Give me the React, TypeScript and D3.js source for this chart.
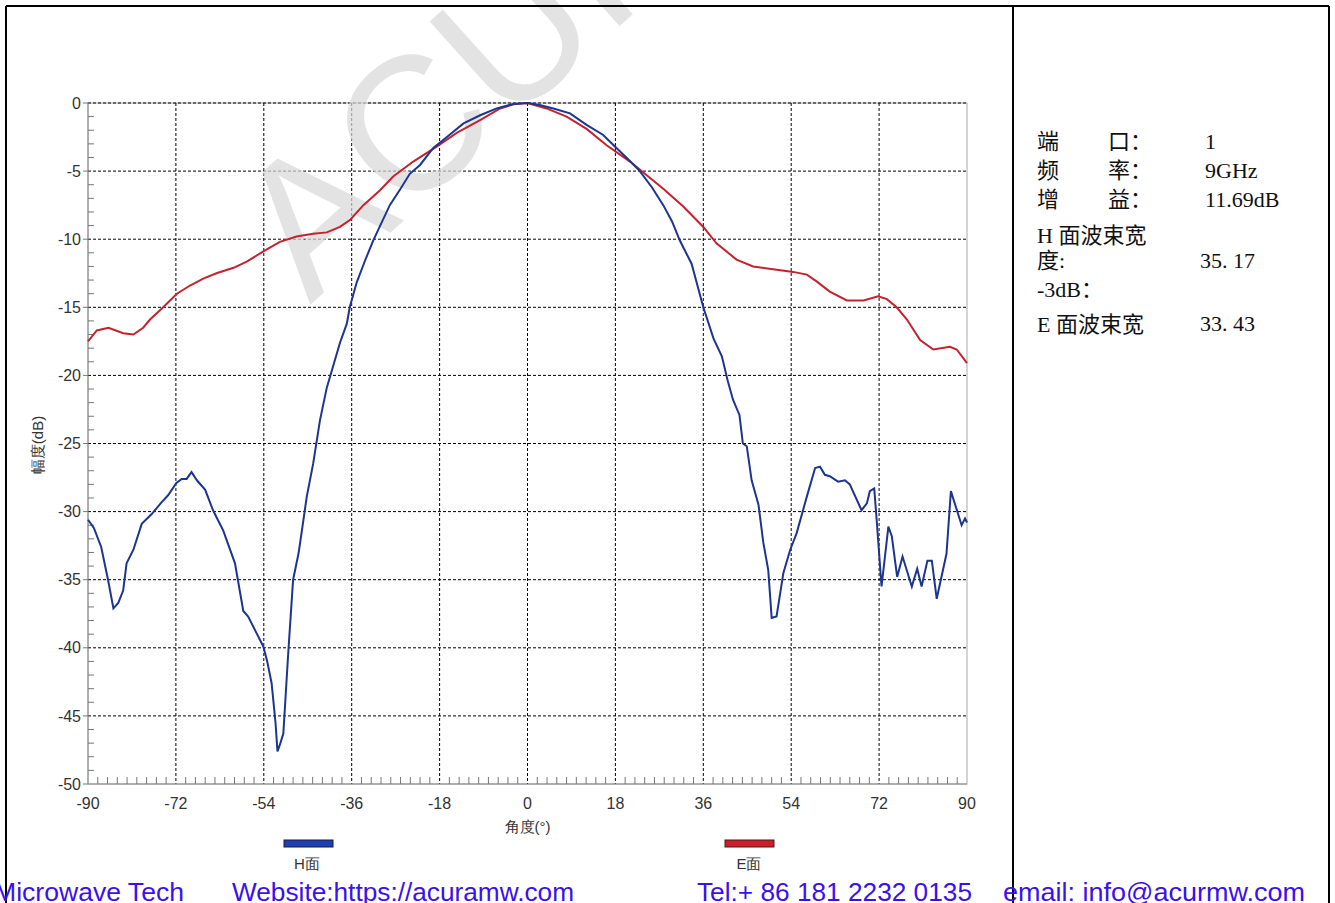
import React from "react";
import * as d3 from "d3";

const hAngles = [-90,-88.8,-87.3,-85.9,-84.8,-83.8,-82.8,-82.1,-80.7,-79,-77,-74.9,-73.6,-71.9,-70.8,-69.8,-68.8,-67.7,-66,-64.4,-62.3,-59.9,-58.2,-57.2,-55.8,-54.1,-53.3,-52.4,-51.6,-51.2,-50.6,-50,-49,-48,-46.9,-46.2,-45.2,-43.9,-42.5,-41.1,-38.4,-37,-36.4,-35,-33.3,-31.6,-28.2,-26,-24.1,-22,-19.3,-16.5,-13.1,-9.7,-6.3,-2.9,0,2.5,5.3,8.7,12.1,15.5,17.9,20.5,23,25.5,27.8,29.6,31.2,33.6,36,38.1,39.8,41,42.1,43.4,44.1,44.9,45.9,47.3,48.3,49.3,50,51,52.4,53.8,55.1,57.2,58.9,59.9,60.9,61.9,63.6,65,66,68.4,69.5,70.1,71,71.5,72.5,73.9,74.6,75.7,76.8,78.7,79.8,80.7,81.9,82.8,83.8,85.8,86.7,88.9,89.6,90];
const hValues = [-30.6,-31.2,-32.6,-35,-37.1,-36.7,-35.8,-33.8,-32.8,-30.9,-30.2,-29.3,-28.8,-27.9,-27.6,-27.6,-27.1,-27.7,-28.4,-29.9,-31.4,-33.8,-37.3,-37.7,-38.7,-39.9,-41,-42.6,-45.5,-47.6,-47,-46.3,-40.4,-35,-33.1,-31.4,-28.9,-26.5,-23.3,-20.9,-17.6,-16.2,-15,-13.2,-11.6,-10.1,-7.5,-6.3,-5.2,-4.55,-3.3,-2.5,-1.5,-0.9,-0.4,-0.07,0,-0.15,-0.4,-0.76,-1.6,-2.35,-3.2,-4.1,-5,-6.2,-7.5,-8.7,-10.1,-11.8,-15,-17.3,-18.6,-20.4,-21.8,-22.9,-25,-25.2,-27.7,-29.5,-32.3,-34.3,-37.8,-37.7,-34.5,-32.8,-31.6,-28.9,-26.8,-26.7,-27.3,-27.4,-27.8,-27.7,-28,-29.9,-29.4,-28.5,-28.3,-30.6,-35.5,-31.1,-31.8,-34.8,-33.3,-35.5,-34.2,-35.5,-33.6,-33.6,-36.4,-33.1,-28.5,-31,-30.5,-30.8];

const eAngles = [-90,-88.2,-85.8,-82.8,-80.7,-78.7,-77.3,-74.6,-71.8,-69.1,-66.4,-63.7,-60.2,-57.5,-54.1,-50.7,-47.3,-43.9,-41.1,-38.4,-36.4,-33.6,-30.2,-27.5,-23.4,-18.6,-14.5,-9.7,-5.6,-2.9,0,3.9,8,12.1,16.2,21,25.1,27.8,31.9,36,38.7,42.8,46.2,50.3,54.4,57.2,59.2,61.9,65.4,68.8,71.8,73.6,75.6,77.7,80.4,83.1,86.5,87.9,90];
const eValues = [-17.5,-16.7,-16.5,-16.9,-17,-16.5,-15.9,-15,-14,-13.4,-12.9,-12.5,-12.1,-11.65,-10.9,-10.2,-9.8,-9.6,-9.5,-9.1,-8.6,-7.5,-6.4,-5.4,-4.3,-3.2,-2.2,-1.25,-0.4,-0.1,0,-0.4,-1,-1.9,-3.1,-4.3,-5.5,-6.3,-7.6,-9.1,-10.3,-11.5,-12,-12.2,-12.4,-12.6,-13.1,-13.85,-14.5,-14.5,-14.2,-14.4,-15,-15.9,-17.4,-18.1,-17.9,-18.1,-19.1];

const xTicks = [-90,-72,-54,-36,-18,0,18,36,54,72,90];
const yTicks = [0,-5,-10,-15,-20,-25,-30,-35,-40,-45,-50];

const infoLabels = ["端", "频", "增"];
const infoLabels2 = ["口：", "率：", "益："];
const infoValues = ["1", "9GHz", "11.69dB"];

const W = 1335, H = 903;
const X0 = 88, X1 = 967, Y0 = 103, Y1 = 784;

export default function App() {
  const x = d3.scaleLinear().domain([-90, 90]).range([X0, X1]);
  const y = d3.scaleLinear().domain([0, -50]).range([Y0, Y1]);
  const line = d3.line<[number, number]>().x(d => x(d[0])).y(d => y(d[1]));
  const hPts = hAngles.map((a, i) => [a, hValues[i]] as [number, number]);
  const ePts = eAngles.map((a, i) => [a, eValues[i]] as [number, number]);
  const minorY = d3.range(-1, -50, -1).filter(v => v % 5 !== 0);
  const minorX = d3.range(-88, 90, 2).filter(v => v % 18 !== 0);
  const sans = "Arial, 'Liberation Sans', Helvetica, sans-serif";
  const serif = "'Liberation Serif', 'Noto Sans CJK SC', serif";
  const cjk = "'Liberation Serif', 'Noto Sans CJK SC', serif";
  return (
    <div style={{ position: "absolute", left: 0, top: 0, width: W, height: H, overflow: "hidden", background: "#fff" }}>
      <svg width={W} height={H} style={{ display: "block" }}>
        <rect x={0} y={0} width={W} height={H} fill="#fff" />

        {/* plot frame */}
        <rect x={X0} y={Y0} width={X1 - X0} height={Y1 - Y0} fill="none" stroke="#a8a8a8" strokeWidth={1} />
        {/* grid */}
        {yTicks.filter(v => v !== -50).map(v => (
          <line key={"gy" + v} x1={X0} x2={X1} y1={y(v)} y2={y(v)} stroke="#000" strokeWidth={1} strokeDasharray="3,2" />
        ))}
        {xTicks.filter(v => v !== -90 && v !== 90).map(v => (
          <line key={"gx" + v} x1={x(v)} x2={x(v)} y1={Y0} y2={Y1} stroke="#000" strokeWidth={1} strokeDasharray="3,2" />
        ))}
        {/* axes */}
        <line x1={X0} x2={X0} y1={Y0} y2={Y1} stroke="#8a8a8a" strokeWidth={1} />
        <line x1={X0} x2={X1} y1={Y1} y2={Y1} stroke="#8a8a8a" strokeWidth={1} />
        {minorY.map(v => (
          <line key={"my" + v} x1={X0} x2={X0 + 6} y1={y(v)} y2={y(v)} stroke="#777" strokeWidth={1} />
        ))}
        {minorX.map(v => (
          <line key={"mx" + v} x1={x(v)} x2={x(v)} y1={Y1} y2={Y1 - 7} stroke="#777" strokeWidth={1} />
        ))}
        {yTicks.map(v => (
          <g key={"ty" + v}>
            <line x1={X0 - 5} x2={X0} y1={y(v)} y2={y(v)} stroke="#777" />
            <text x={X0 - 7} y={y(v)} dy="0.35em" textAnchor="end" fontFamily={sans} fontSize={16} fill="#333">{v}</text>
          </g>
        ))}
        {xTicks.map(v => (
          <text key={"tx" + v} x={x(v)} y={Y1 + 25} textAnchor="middle" fontFamily={sans} fontSize={16} fill="#333">{v}</text>
        ))}
        <text x={x(0)} y={832} textAnchor="middle" fontFamily={sans} fontSize={15} fill="#333">角度(°)</text>
        <text transform="translate(43,445) rotate(-90)" textAnchor="middle" fontFamily={sans} fontSize={15} fill="#333">幅度(dB)</text>

        {/* watermark */}
        <text transform="translate(310,305) rotate(-42)" fontFamily={sans} fontSize={190} fill="#d8d8d8" opacity={0.7}>ACURAMW</text>

        {/* curves */}
        <path d={line(ePts) || ""} fill="none" stroke="#c4222e" strokeWidth={2} />
        <path d={line(hPts) || ""} fill="none" stroke="#1c3590" strokeWidth={2} />

        {/* outer frame */}
        <line x1={6} y1={6} x2={1329} y2={6} stroke="#000" strokeWidth={2} />
        <line x1={6} y1={6} x2={6} y2={H} stroke="#000" strokeWidth={2} />
        <line x1={1013} y1={6} x2={1013} y2={H} stroke="#000" strokeWidth={2} />
        <line x1={1329} y1={6} x2={1329} y2={H} stroke="#000" strokeWidth={2} />

        {/* legend */}
        <rect x={284} y={840} width={49} height={7} fill="#1e3fae" stroke="#1a1a4a" strokeWidth={1} />
        <text x={307} y={869} textAnchor="middle" fontFamily={sans} fontSize={15} fill="#333">H面</text>
        <rect x={725} y={840} width={49} height={7} fill="#c8202a" stroke="#4a1a1a" strokeWidth={1} />
        <text x={749} y={869} textAnchor="middle" fontFamily={sans} fontSize={15} fill="#333">E面</text>

        {/* info panel */}
        {infoLabels.map((t, i) => (
          <g key={"inf" + i} fontFamily={cjk} fontSize={22} fill="#111">
            <text x={1037} y={149 + i * 29}>{t}</text>
            <text x={1108} y={149 + i * 29}>{infoLabels2[i]}</text>
            <text x={1205} y={149 + i * 29} fontFamily={serif}>{infoValues[i]}</text>
          </g>
        ))}
        <g fontFamily={cjk} fontSize={22} fill="#111">
          <text x={1037} y={243}>H 面波束宽</text>
          <text x={1037} y={268}>度:</text>
          <text x={1200} y={268}>35. 17</text>
          <text x={1037} y={297}>-3dB：</text>
          <text x={1037} y={332}>E 面波束宽</text>
          <text x={1200} y={331}>33. 43</text>
        </g>

        {/* footer */}
        <g fontFamily={sans} fontSize={26} fill="#3a10f0">
          <text x={-6} y={901} textLength={190} lengthAdjust="spacingAndGlyphs">Microwave Tech</text>
          <text x={232} y={901} textLength={342} lengthAdjust="spacingAndGlyphs">Website:https://acuramw.com</text>
          <text x={697} y={901} textLength={275} lengthAdjust="spacingAndGlyphs">Tel:+ 86 181 2232 0135</text>
          <text x={1003} y={901} textLength={302} lengthAdjust="spacingAndGlyphs">email: info@acurmw.com</text>
        </g>
      </svg>
    </div>
  );
}
